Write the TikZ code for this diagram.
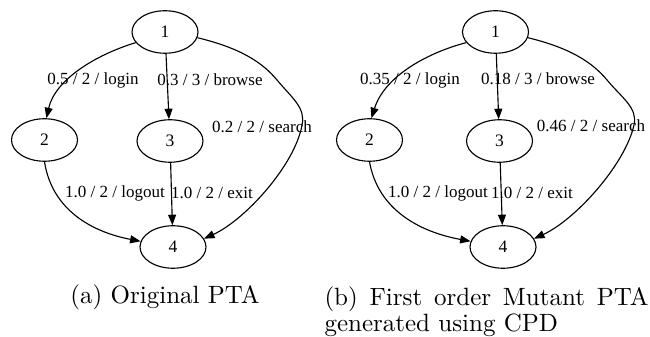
\documentclass[tikz,border=0pt]{standalone}
\usepackage{fontspec}
\newfontfamily\tms{Liberation Serif}
\usetikzlibrary{shapes.geometric,arrows.meta}
\tikzset{
  st/.style={draw, ellipse, line width=0.45pt, minimum width=26.4pt, minimum height=17pt, inner sep=0pt, font=\tms\fontsize{7}{8}\selectfont},
  edge/.style={draw, line width=0.45pt, -{Triangle[length=4.2pt,width=3.2pt]}},
  lab/.style={font=\tms\fontsize{6.8}{8}\selectfont, inner sep=0pt},
  captxt/.style={font=\fontsize{10}{10.4}\selectfont, inner sep=0pt}
}
\begin{document}
\begin{tikzpicture}[x=0.4pt,y=-0.4pt]
\useasboundingbox (0,0) rectangle (650,337);
% left graph
\node[st] (a1) at (165,32) {1};
\node[st] (a2) at (44.5,140) {2};
\node[st] (a3) at (170,141) {3};
\node[st] (a4) at (173,247) {4};
\draw[edge] (a1.200) .. controls (95,55) and (55,80) .. (a2.85);
\draw[edge] (a1) -- (a3);
\draw[edge] (a1.-10) .. controls (240,48) and (262,62) .. (277,80) .. controls (292,98) and (306,108) .. (302,125) .. controls (295,165) and (245,220) .. (a4.15);
\draw[edge] (a2.south) .. controls (52,210) and (92,232) .. (a4.170);
\draw[edge] (a3) -- (a4);
\node[lab] (la1) at (93,80) {0.5 / 2 / login};
\node[lab] (la2) at (210,80) {0.3 / 3 / browse};
\node[lab] (la3) at (262,127) {0.2 / 2 / search};
\node[lab] (la4) at (115,193) {1.0 / 2 / logout};
\node[lab] (la5) at (212,193) {1.0 / 2 / exit};
% right graph
\node[st] (b1) at (495.5,32) {1};
\node[st] (b2) at (369.5,140) {2};
\node[st] (b3) at (499.5,141) {3};
\node[st] (b4) at (503,247) {4};
\draw[edge] (b1.200) .. controls (430,52) and (385,75) .. (b2.85);
\draw[edge] (b1) -- (b3);
\draw[edge] (b1.-10) .. controls (570,48) and (592,62) .. (607,80) .. controls (622,98) and (638,108) .. (634,125) .. controls (625,165) and (575,220) .. (b4.15);
\draw[edge] (b2.south) .. controls (378,210) and (420,232) .. (b4.170);
\draw[edge] (b3) -- (b4);
\node[lab] (lb1) at (410,80) {0.35 / 2 / login};
\node[lab] (lb2) at (538,79) {0.18 / 3 / browse};
\node[lab] (lb3) at (591,126) {0.46 / 2 / search};
\node[lab] (lb4) at (438,193) {1.0 / 2 / logout};
\node[lab] (lb5) at (532,193) {1.0 / 2 / exit};
% captions
\node[captxt, anchor=base] (ca) at (165,304) {(a) Original PTA};
\node[captxt, anchor=north west] (cb) at (324,286) {\parbox[t]{129.6pt}{(b) First order Mutant PTA generated using CPD}};
\end{tikzpicture}
\end{document}
